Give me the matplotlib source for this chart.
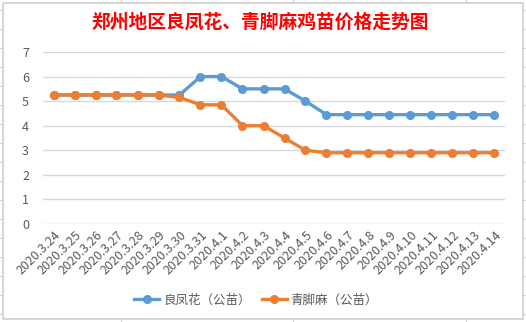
import matplotlib.pyplot as plt
from matplotlib.lines import Line2D
from matplotlib.patches import Rectangle

plt.rcParams['font.family'] = ['Noto Sans CJK SC', 'DejaVu Sans']

dates = ['2020.3.24', '2020.3.25', '2020.3.26', '2020.3.27', '2020.3.28', '2020.3.29',
         '2020.3.30', '2020.3.31', '2020.4.1', '2020.4.2', '2020.4.3', '2020.4.4',
         '2020.4.5', '2020.4.6', '2020.4.7', '2020.4.8', '2020.4.9', '2020.4.10',
         '2020.4.11', '2020.4.12', '2020.4.13', '2020.4.14']
liangfeng = [5.25, 5.25, 5.25, 5.25, 5.25, 5.25, 5.25, 6.0, 6.0, 5.5, 5.5, 5.5,
             5.0, 4.45, 4.45, 4.45, 4.45, 4.45, 4.45, 4.45, 4.45, 4.45]
qingjiao = [5.25, 5.25, 5.25, 5.25, 5.25, 5.25, 5.15, 4.85, 4.85, 4.0, 4.0, 3.5,
            3.0, 2.9, 2.9, 2.9, 2.9, 2.9, 2.9, 2.9, 2.9, 2.9]
series_names = ['良凤花（公苗）', '青脚麻（公苗）']

blue = '#5B9BD5'
orange = '#ED7D31'
grey_text = '#595959'

fig = plt.figure(figsize=(5.26, 3.22), dpi=100)

# spreadsheet background bits and chart frame
for x in [121, 293, 466]:
    fig.add_artist(Line2D([x / 526, x / 526], [0, 1], color='#D4D4D4', lw=0.8, zorder=-3))
for y in range(10, 322, 19):
    fig.add_artist(Line2D([0, 1], [1 - y / 322, 1 - y / 322], color='#D4D4D4', lw=0.8, zorder=-3))
fig.add_artist(Rectangle((2.5 / 526, 1 - 318.5 / 322), 520.5 / 526, 316 / 322,
                         facecolor='white', edgecolor='#D0D0D0', lw=1.2, zorder=-2))

ax = fig.add_axes([43 / 526, 98 / 322, 462 / 526, 172 / 322])
ax.set_facecolor('none')
x = list(range(len(dates)))
ax.plot(x, liangfeng, color=blue, lw=2.4, marker='o', ms=5.5, label=series_names[0], zorder=3)
ax.plot(x, qingjiao, color=orange, lw=2.4, marker='o', ms=5.5, label=series_names[1], zorder=4)

ax.set_ylim(0, 7)
ax.set_xlim(-0.5, len(dates) - 0.5)
ax.set_yticks(range(0, 8))
ax.grid(axis='y', color='#D9D9D9', lw=1)
ax.set_axisbelow(True)
for s in ax.spines.values():
    s.set_visible(False)
ax.tick_params(axis='both', length=0, colors=grey_text, labelsize=9)
ax.tick_params(axis='y', pad=10)
ax.set_xticks(x)
ax.set_xticklabels(dates, rotation=45, ha='right', rotation_mode='anchor', fontsize=9)

fig.text(0.495, 1 - 22 / 322, '郑州地区良凤花、青脚麻鸡苗价格走势图', color='red',
         fontsize=13.5, fontweight='bold', ha='center', va='center')

leg = ax.legend(loc='center', bbox_to_anchor=(256 / 526, 1 - 300 / 322),
                bbox_transform=fig.transFigure, ncol=2, frameon=False, fontsize=9,
                handlelength=2.0, columnspacing=0.9, handletextpad=0.3)
for t in leg.get_texts():
    t.set_color(grey_text)

fig.savefig('out.png', dpi=100)
